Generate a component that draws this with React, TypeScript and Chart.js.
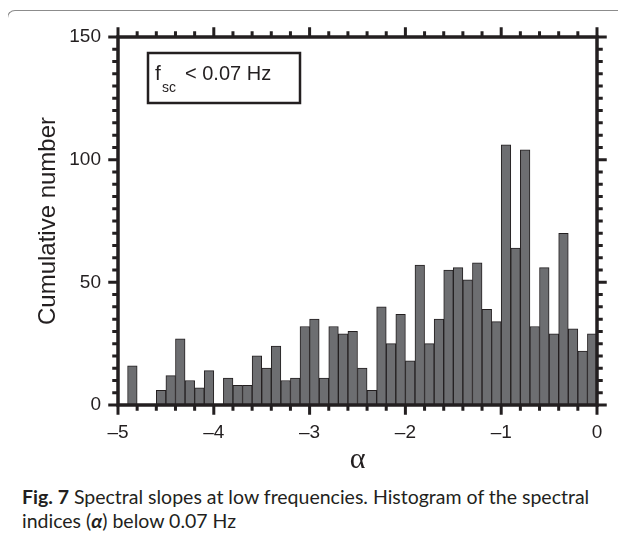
import React, { useEffect, useRef } from 'react';
import { Chart, registerables } from 'chart.js';

Chart.register(...registerables);

// Histogram bins: 50 bins of width 0.1 from -5 to 0
const BIN_START = -5;
const BIN_WIDTH = 0.1;
const counts = [
  0, 16, 0, 0, 6, 12, 27, 10, 7, 14,
  0, 11, 8, 8, 20, 15, 24, 10, 11, 32,
  35, 11, 32, 29, 30, 15, 6, 40, 25, 37,
  18, 57, 25, 35, 55, 56, 51, 58, 39, 34,
  106, 64, 104, 32, 56, 29, 70, 31, 22, 29,
];

const xMajorTicks = [-5, -4, -3, -2, -1, 0];
const xTickLabels = ['\u20135', '\u20134', '\u20133', '\u20132', '\u20131', '0'];
const yMajorTicks = [0, 50, 100, 150];
const yTickLabels = ['0', '50', '100', '150'];

const INK = '#231f20';

function majorIndex(list: number[], v: number) {
  return list.findIndex((m) => Math.abs(m - v) < 1e-6);
}

const framePlugin = {
  id: 'frame',
  afterDatasetsDraw(chart: any) {
    const { ctx, chartArea, scales } = chart;
    const { left, right, top, bottom } = chartArea;
    const x = scales.x;
    const y = scales.y;
    ctx.save();
    ctx.strokeStyle = INK;
    ctx.lineCap = 'butt';
    // ticks
    ctx.lineWidth = 3;
    const lw = 1.75;
    x.ticks.forEach((t: any) => {
      const px = x.getPixelForValue(t.value);
      const len = majorIndex(xMajorTicks, t.value) >= 0 ? 8 : 4;
      ctx.beginPath();
      ctx.moveTo(px, bottom);
      ctx.lineTo(px, bottom + lw + len);
      ctx.moveTo(px, top);
      ctx.lineTo(px, top - lw - len);
      ctx.stroke();
    });
    y.ticks.forEach((t: any) => {
      const py = y.getPixelForValue(t.value);
      const len = majorIndex(yMajorTicks, t.value) >= 0 ? 8 : 4;
      ctx.beginPath();
      ctx.moveTo(left, py);
      ctx.lineTo(left - lw - len, py);
      ctx.moveTo(right, py);
      ctx.lineTo(right + lw + len, py);
      ctx.stroke();
    });
    // frame
    ctx.lineWidth = 3.5;
    ctx.strokeRect(left, top, right - left, bottom - top);
    // legend box
    ctx.lineWidth = 2.5;
    ctx.fillStyle = '#ffffff';
    ctx.fillRect(left + 30, top + 16, 152, 50);
    ctx.strokeRect(left + 30, top + 16, 152, 50);
    ctx.fillStyle = INK;
    ctx.textBaseline = 'alphabetic';
    ctx.textAlign = 'left';
    ctx.font = '21px "Liberation Sans", Arial, sans-serif';
    ctx.fillText('f', left + 37, top + 43);
    ctx.font = '14px "Liberation Sans", Arial, sans-serif';
    ctx.fillText('sc', left + 44, top + 55);
    ctx.font = '20px "Liberation Sans", Arial, sans-serif';
    ctx.fillText('< 0.07 Hz', left + 67, top + 43);
    ctx.restore();
  },
};

export default function App() {
  const ref = useRef<HTMLCanvasElement>(null);

  useEffect(() => {
    document.documentElement.style.overflow = 'hidden';
    const data = counts.map((c, i) => ({ x: BIN_START + BIN_WIDTH * (i + 0.5), y: c }));
    const tickFont = { family: '"Liberation Sans", Arial, sans-serif', size: 19 };
    const chart = new Chart(ref.current as HTMLCanvasElement, {
      type: 'bar',
      data: {
        datasets: [
          {
            data: data as any,
            backgroundColor: '#6d6e71',
            borderColor: INK,
            borderWidth: 1,
            barPercentage: 1,
            categoryPercentage: 1,
          },
        ],
      },
      options: {
        responsive: false,
        animation: false,
        events: [],
        layout: { padding: { left: 0, top: 29, right: 29, bottom: 0 } },
        plugins: { legend: { display: false }, tooltip: { enabled: false } },
        scales: {
          x: {
            type: 'linear',
            min: -5,
            max: 0,
            offset: false,
            grid: { display: false, drawTicks: false },
            border: { display: false },
            ticks: {
              stepSize: 0.2,
              autoSkip: false,
              maxRotation: 0,
              padding: 16,
              color: INK,
              font: tickFont,
              callback: (v: any) => {
                const i = majorIndex(xMajorTicks, Number(v));
                return i >= 0 ? xTickLabels[i] : '';
              },
            },
            title: {
              display: true,
              text: '\u03b1',
              color: INK,
              font: { family: '"Liberation Serif", "DejaVu Serif", serif', size: 30 },
              padding: { top: 0, bottom: 0 },
            },
            afterFit: (s: any) => {
              s.height = 73;
            },
          } as any,
          y: {
            type: 'linear',
            min: 0,
            max: 150,
            grid: { display: false, drawTicks: false },
            border: { display: false },
            ticks: {
              stepSize: 5,
              autoSkip: false,
              padding: 17,
              color: INK,
              font: tickFont,
              callback: (v: any) => {
                const i = majorIndex(yMajorTicks, Number(v));
                return i >= 0 ? yTickLabels[i] : '';
              },
            },
            title: {
              display: true,
              text: 'Cumulative number',
              color: INK,
              font: { family: '"Liberation Sans", Arial, sans-serif', size: 24 },
              padding: { top: 26, bottom: 0 },
            },
            afterFit: (s: any) => {
              s.width = 110;
            },
          } as any,
        },
      },
      plugins: [framePlugin],
    });
    return () => chart.destroy();
  }, []);

  return (
    <div style={{ position: 'relative', width: 618, height: 531 }}>
      <div
        style={{
          position: 'absolute',
          left: -1,
          top: 2,
          width: 619,
          height: 537,
          borderLeft: '1.5px solid #8c8c8c',
          borderTop: '1.5px solid #8c8c8c',
          borderTopLeftRadius: 8,
          boxSizing: 'border-box',
        }}
      />
      <canvas ref={ref} width={618} height={470} style={{ position: 'absolute', left: 0, top: 0 }} />
      <div
        style={{
          position: 'absolute',
          left: 14,
          top: 477,
          fontFamily: 'Lato, "Open Sans", sans-serif',
          fontSize: 19.5,
          lineHeight: '24px',
          color: INK,
          whiteSpace: 'nowrap',
        }}
      >
        <b>Fig. 7</b> Spectral slopes at low frequencies. Histogram of the spectral
        <br />
        indices (<b><i>{'\u03b1'}</i></b>) below 0.07 Hz
      </div>
    </div>
  );
}
